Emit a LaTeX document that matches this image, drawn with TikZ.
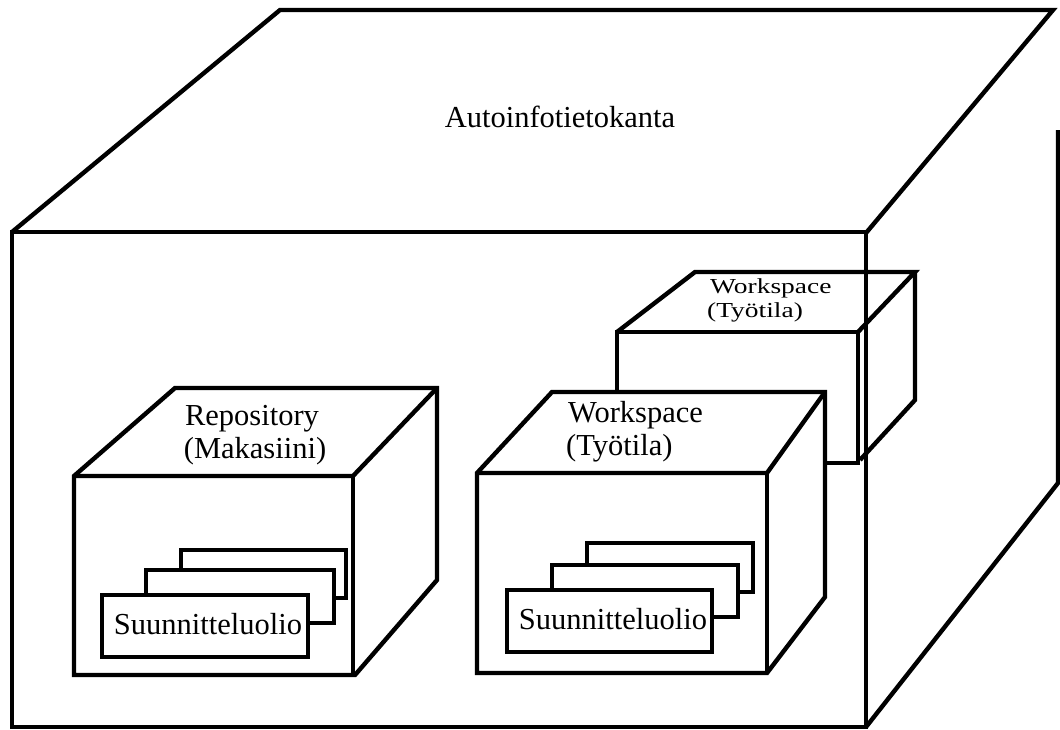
\documentclass[tikz,border=0pt]{standalone}
\usepackage{fontspec}
\setmainfont{Liberation Serif}
\begin{document}
\begin{tikzpicture}[x=1pt,y=-1pt,line width=4.4pt,line join=miter,
  lbl/.style={inner sep=0pt,font=\fontsize{30.5}{35}\selectfont},
  sheet/.style={fill=white}]
\useasboundingbox (0,0) rectangle (1060,729);
% big box
\draw (12,232) -- (280,10) -- (1053,10) -- (866,233);
\draw (12,232) rectangle (866,727);
\draw (1058,130) -- (1058,483) -- (866,727);
\node[lbl,anchor=base] (title) at (560,127) {Autoinfotietokanta};
% back workspace box
\draw (617,463) -- (617,332) -- (858,332) -- (858,463) -- cycle;
\draw (617,332) -- (695,272) -- (915,272) -- (858,332);
\draw (915,272) -- (915,400) -- (860,460);
\node[lbl,anchor=base west] (ws2a) at (708,293) {\scalebox{0.9}[0.7]{Workspace}};
\node[lbl,anchor=base west] (ws2b) at (705,317) {\scalebox{0.9}[0.7]{(Työtila)}};
% front workspace box
\draw[sheet] (477,473) -- (552,392) -- (825,392) -- (825,597) -- (767,673) -- (477,673) -- cycle;
\draw (477,473) -- (767,473) -- (825,392);
\draw (767,473) -- (767,673);
\node[lbl,anchor=base west] (ws1a) at (566,422) {Workspace};
\node[lbl,anchor=base west] (ws1b) at (564,455) {(Työtila)};
% repository box
\draw (74,476) -- (175,388) -- (437,388) -- (437,580) -- (355,675) -- (74,675) -- cycle;
\draw (74,476) -- (353,476) -- (437,388);
\draw (353,476) -- (353,675);
\node[lbl,anchor=base] (repa) at (252,425) {Repository};
\node[lbl,anchor=base] (repb) at (255,458) {(Makasiini)};
% repository stack
\draw[sheet] (181,550) rectangle (346,598);
\draw[sheet] (146,570) rectangle (334,623);
\draw[sheet] (102,595) rectangle (308,657);
\node[lbl,anchor=base] (reps) at (208,634) {Suunnitteluolio};
% workspace stack
\draw[sheet] (587,543) rectangle (753,592);
\draw[sheet] (552,565) rectangle (738,617);
\draw[sheet] (507,590) rectangle (712,652);
\node[lbl,anchor=base] (wss) at (613,629) {Suunnitteluolio};
\end{tikzpicture}
\end{document}
